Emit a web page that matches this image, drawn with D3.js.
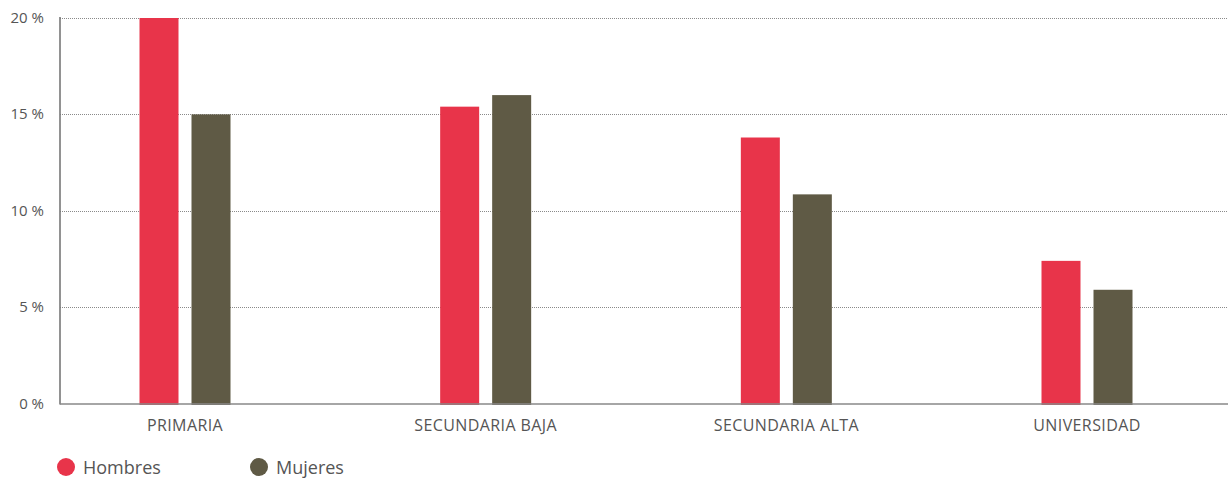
<!DOCTYPE html>
<html>
<head>
<meta charset="utf-8">
<script src="https://cdn.jsdelivr.net/npm/d3@7"></script>
<style>
  body { margin: 0; background: #fff; }
  text { font-family: "Open Sans", "Noto Sans", sans-serif; fill: #555; }
</style>
</head>
<body>
<div id="chart"></div>
<script>
// data (percent)
var categories = ["PRIMARIA", "SECUNDARIA BAJA", "SECUNDARIA ALTA", "UNIVERSIDAD"];
var hombres = [20, 15.4, 13.8, 7.4];
var mujeres = [15, 16, 10.85, 5.9];
var seriesNames = ["Hombres", "Mujeres"];
var yTicks = [0, 5, 10, 15, 20];

var colors = ["#e8344a", "#5f5a45"];

var width = 1228, height = 480;
var plotLeft = 60, plotTop = 18, plotBottom = 403.5, plotRight = 1228;

var svg = d3.select("#chart").append("svg")
    .attr("width", width)
    .attr("height", height);

var x = d3.scalePoint()
    .domain(categories)
    .range([185, 1087]);

var xInner = d3.scaleBand()
    .domain(seriesNames)
    .range([-45.5, 45.5])
    .paddingInner(0.25);

var y = d3.scaleLinear()
    .domain([0, 20])
    .range([plotBottom, plotTop]);

// dotted gridlines
svg.append("g")
    .selectAll("line")
    .data(yTicks.filter(function(d) { return d > 0; }))
    .enter().append("line")
    .attr("x1", plotLeft)
    .attr("x2", plotRight)
    .attr("y1", function(d) { return Math.round(y(d)) + 0.5; })
    .attr("y2", function(d) { return Math.round(y(d)) + 0.5; })
    .style("stroke", "#8a8a8a")
    .style("stroke-width", 1)
    .style("stroke-dasharray", "1,1");

// y tick labels
svg.append("g")
    .selectAll("text")
    .data(yTicks)
    .enter().append("text")
    .attr("x", 44)
    .attr("y", function(d) { return y(d) + 5; })
    .attr("text-anchor", "end")
    .style("font-size", "15px")
    .text(function(d) { return d + " %"; });

// bars
var rows = categories.map(function(c, i) {
    return { cat: c, values: [hombres[i], mujeres[i]] };
});

var groups = svg.append("g")
    .selectAll("g")
    .data(rows)
    .enter().append("g")
    .attr("transform", function(d) { return "translate(" + x(d.cat) + ",0)"; });

groups.selectAll("rect")
    .data(function(d) {
        return d.values.map(function(v, j) { return { name: seriesNames[j], value: v, j: j }; });
    })
    .enter().append("rect")
    .attr("x", function(d) { return xInner(d.name); })
    .attr("width", xInner.bandwidth())
    .attr("y", function(d) { return y(d.value); })
    .attr("height", function(d) { return y(0) - y(d.value) + 1.5; })
    .style("fill", function(d) { return colors[d.j]; });

// axis lines
svg.append("line")
    .attr("x1", plotLeft).attr("x2", plotLeft)
    .attr("y1", plotTop - 1).attr("y2", plotBottom + 1)
    .style("stroke", "#777").style("stroke-width", 1.6);

svg.append("line")
    .attr("x1", plotLeft).attr("x2", plotRight)
    .attr("y1", plotBottom + 0.5).attr("y2", plotBottom + 0.5)
    .style("stroke", "#888").style("stroke-width", 1.6);

// category labels
svg.append("g")
    .selectAll("text")
    .data(categories)
    .enter().append("text")
    .attr("x", function(d) { return x(d); })
    .attr("y", 431)
    .attr("text-anchor", "middle")
    .style("font-size", "16px")
    .style("letter-spacing", "0.4px")
    .text(function(d) { return d; });

// legend
var legend = svg.append("g")
    .selectAll("g")
    .data(seriesNames)
    .enter().append("g")
    .attr("transform", function(d, i) { return "translate(" + (66 + i * 193) + ",467)"; });

legend.append("circle")
    .attr("r", 9)
    .style("fill", function(d, i) { return colors[i]; });

legend.append("text")
    .attr("x", 17)
    .attr("y", 6.5)
    .style("font-size", "18px")
    .text(function(d) { return d; });
</script>
</body>
</html>
